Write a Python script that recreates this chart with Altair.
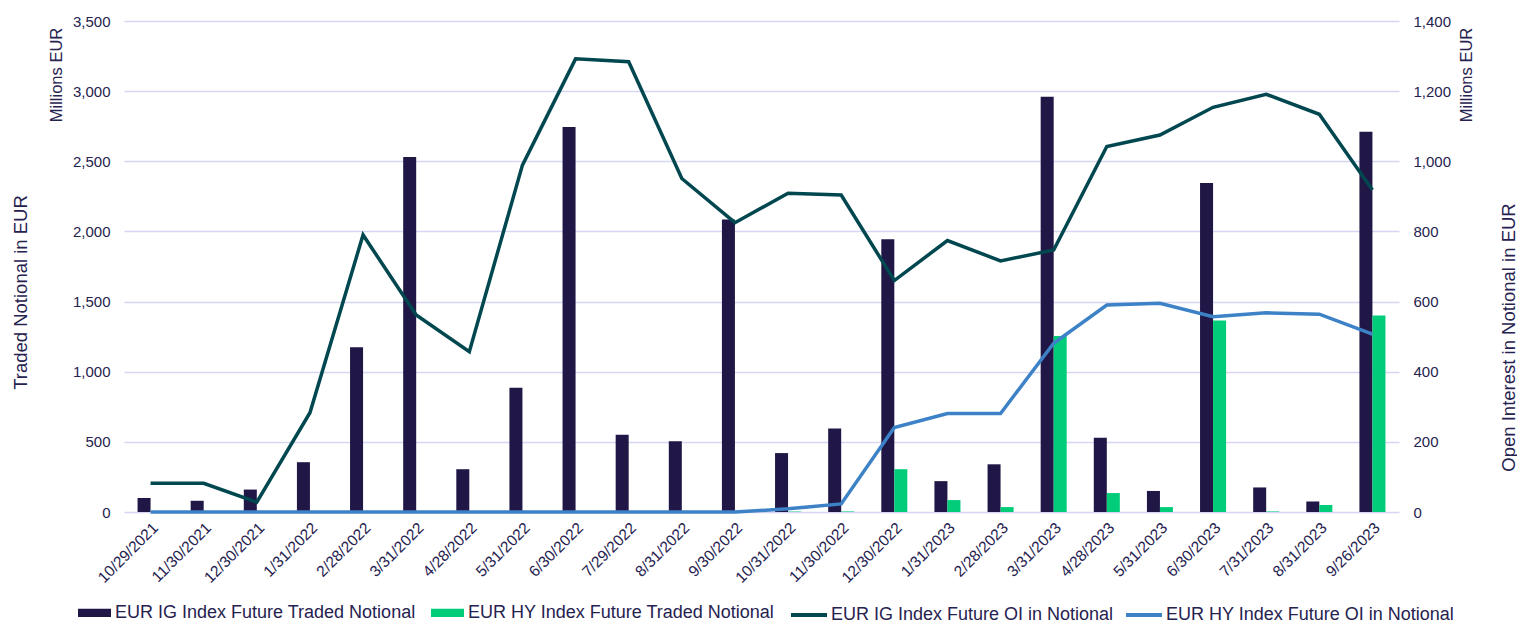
import altair as alt
import pandas as pd

dates = ["10/29/2021", "11/30/2021", "12/30/2021", "1/31/2022", "2/28/2022", "3/31/2022",
         "4/28/2022", "5/31/2022", "6/30/2022", "7/29/2022", "8/31/2022", "9/30/2022",
         "10/31/2022", "11/30/2022", "12/30/2022", "1/31/2023", "2/28/2023", "3/31/2023",
         "4/28/2023", "5/31/2023", "6/30/2023", "7/31/2023", "8/31/2023", "9/26/2023"]

ig_traded = [100, 80, 160, 355, 1175, 2530, 305, 885, 2745, 550, 505, 2085,
             420, 595, 1945, 220, 340, 2960, 530, 150, 2345, 175, 75, 2710]
hy_traded = [0, 0, 0, 0, 0, 0, 0, 0, 0, 0, 0, 0,
             3, 4, 305, 85, 35, 1255, 135, 35, 1365, 4, 50, 1400]
ig_oi = [82, 82, 28, 283, 790, 562, 457, 989, 1292, 1284, 951, 825,
         909, 904, 660, 774, 716, 747, 1042, 1075, 1154, 1191, 1134, 918]
hy_oi = [0, 0, 0, 0, 0, 0, 0, 0, 0, 0, 0, 0,
         9, 23, 241, 281, 281, 481, 590, 595, 557, 568, 564, 507]

bar_names = ["EUR IG Index Future Traded Notional", "EUR HY Index Future Traded Notional"]
line_names = ["EUR IG Index Future OI in Notional", "EUR HY Index Future OI in Notional"]
bar_colors = ["#201747", "#00CC7A"]
line_colors = ["#00474F", "#3D82C6"]

TEXT = "#26224F"
GRID = "#D6D6F2"
FONT = "Liberation Sans"

bars_df = pd.DataFrame({
    "date": dates * 2,
    "series": [bar_names[0]] * len(dates) + [bar_names[1]] * len(dates),
    "value": ig_traded + hy_traded,
})
lines_df = pd.DataFrame({
    "date": dates * 2,
    "series": [line_names[0]] * len(dates) + [line_names[1]] * len(dates),
    "value": ig_oi + hy_oi,
})

x_enc = alt.X(
    "date:N", sort=dates, title=None,
    scale=alt.Scale(paddingInner=0.51, paddingOuter=0.255),
    axis=alt.Axis(labelAngle=-45, labelAlign="right", labelBaseline="top",
                  labelFontSize=15.5, labelColor=TEXT, labelPadding=8,
                  ticks=False, domain=False, grid=False, labelOverlap=False),
)

bars = alt.Chart(bars_df).mark_bar().encode(
    x=x_enc,
    xOffset=alt.XOffset("series:N", sort=bar_names,
                        scale=alt.Scale(paddingInner=0, paddingOuter=0)),
    y=alt.Y("value:Q",
            scale=alt.Scale(domain=[0, 3500], nice=False),
            axis=alt.Axis(values=[0, 500, 1000, 1500, 2000, 2500, 3000, 3500],
                          format=",.0f", labelFontSize=15, labelColor=TEXT,
                          labelPadding=14, ticks=False, domain=False,
                          grid=True, gridColor=GRID, gridWidth=1.5,
                          title="Traded Notional in EUR", titleFontSize=18.5,
                          titleFontWeight="normal", titleColor=TEXT,
                          titleAngle=270, titleX=-104, titleY=271,
                          titleAlign="center", titleBaseline="middle")),
    color=alt.Color("series:N",
                    scale=alt.Scale(domain=bar_names, range=bar_colors),
                    legend=alt.Legend(title=None, orient="none", direction="horizontal",
                                      legendX=-46, legendY=575, columns=2,
                                      columnPadding=15, labelOffset=4,
                                      symbolType="M-1,-0.25H1V0.25H-1Z",
                                      symbolSize=1089, symbolStrokeWidth=0,
                                      labelFontSize=18, labelColor=TEXT,
                                      labelLimit=500, padding=0)),
)

lines = alt.Chart(lines_df).mark_line(strokeWidth=3.5).encode(
    x=alt.X("date:N", sort=dates),
    y=alt.Y("value:Q",
            scale=alt.Scale(domain=[0, 1400], nice=False),
            axis=alt.Axis(orient="right",
                          values=[0, 200, 400, 600, 800, 1000, 1200, 1400],
                          format=",.0f", labelFontSize=15, labelColor=TEXT,
                          labelPadding=14, ticks=False, domain=False, grid=False,
                          title="Open Interest in Notional in EUR", titleFontSize=18.5,
                          titleFontWeight="normal", titleColor=TEXT,
                          titleAngle=270, titleX=109, titleY=316,
                          titleAlign="center", titleBaseline="middle")),
    stroke=alt.Stroke("series:N",
                      scale=alt.Scale(domain=line_names, range=line_colors),
                      legend=alt.Legend(title=None, orient="none", direction="horizontal",
                                        legendX=665, legendY=574, columns=2,
                                        columnPadding=4, labelOffset=2,
                                        symbolType="stroke", symbolSize=1296,
                                        symbolStrokeWidth=4,
                                        labelFontSize=18, labelColor=TEXT,
                                        labelLimit=500, padding=0)),
)

unit_left = alt.Chart(alt.Data(values=[{}])).mark_text(
    angle=270, align="center", baseline="middle", fontSize=16.5, color=TEXT, font=FONT
).encode(x=alt.value(-67), y=alt.value(54), text=alt.value("Millions EUR"))

unit_right = alt.Chart(alt.Data(values=[{}])).mark_text(
    angle=270, align="center", baseline="middle", fontSize=16.5, color=TEXT, font=FONT
).encode(x=alt.value(1343), y=alt.value(54), text=alt.value("Millions EUR"))

chart = alt.layer(bars, lines, unit_left, unit_right).resolve_scale(
    y="independent"
).properties(
    width=1275, height=491,
    autosize=alt.AutoSizeParams(type="none"),
    padding={"left": 124, "top": 21, "right": 118, "bottom": 112},
    background="white",
).configure(font=FONT).configure_view(stroke=None)

chart.save("out.html", embed_options={"renderer": "svg", "actions": False})
